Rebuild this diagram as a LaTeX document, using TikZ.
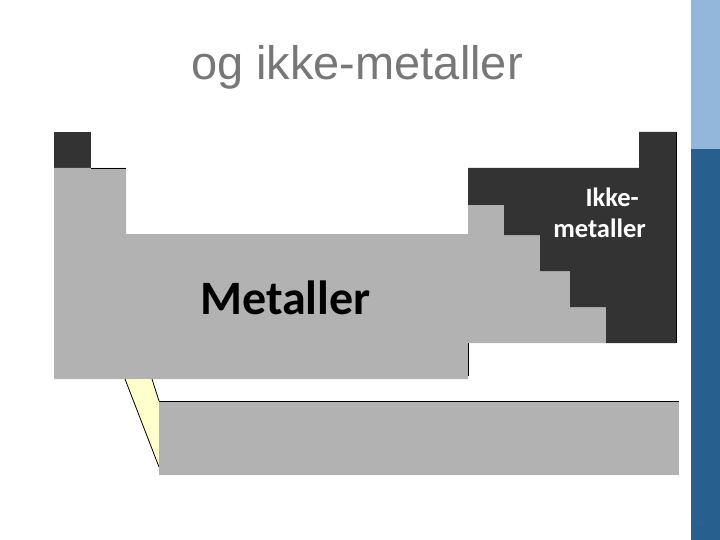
\documentclass[tikz,border=0pt]{standalone}
\usepackage{fontspec}
\setmainfont{Liberation Sans}
\newfontfamily\calibri{Carlito}
\definecolor{tblgray}{HTML}{B2B2B2}
\definecolor{tbldark}{HTML}{333333}
\definecolor{tblyellow}{HTML}{FFFFCC}
\definecolor{sidelight}{HTML}{92B7DB}
\definecolor{sidedark}{HTML}{275F8F}
\definecolor{titlegray}{HTML}{777777}
\definecolor{pagenum}{HTML}{3A5FB0}
\begin{document}
\begin{tikzpicture}[x=1pt,y=-1pt,
  edge/.style={black,line width=0.8pt},
  titletext/.style={text=titlegray,font=\fontsize{47}{50}\selectfont,inner sep=0pt,anchor=base},
  bigtext/.style={font=\calibri\bfseries\fontsize{48}{52}\selectfont,inner sep=0pt,anchor=base west},
  smalltext/.style={text=white,font=\calibri\bfseries\fontsize{26.5}{31}\selectfont,inner sep=0pt,align=right}]
\useasboundingbox (0,0) rectangle (720,540);
\fill[white] (0,0) rectangle (720,540);
% sidebar
\fill[sidelight] (691,0) rectangle (720,149);
\fill[sidedark] (691,149) rectangle (720,540);
% title
\node[titletext] (title) at (357,80) {og ikke-metaller};
% top-left dark square
\fill[tbldark] (54,132) rectangle (91,169);
% main gray block
\fill[tblgray] (54,168) -- (126,168) -- (126,234) -- (468,234) -- (468,205) -- (504,205) -- (504,235) -- (540,235) -- (540,271) -- (570,271) -- (570,307) -- (606,307) -- (606,343) -- (468,343) -- (468,379) -- (54,379) -- cycle;
% dark non-metal block
\fill[tbldark] (468,168) -- (639,168) -- (639,132) -- (676,132) -- (676,343) -- (606,343) -- (606,307) -- (570,307) -- (570,271) -- (540,271) -- (540,235) -- (504,235) -- (504,205) -- (468,205) -- cycle;
% yellow link
\fill[tblyellow] (125,379) -- (152,379) -- (159,401) -- (159,467) -- cycle;
\draw[edge] (125,379) -- (159,467);
\draw[edge] (152,379) -- (159,401);
% lower gray block
\fill[tblgray] (159,401) rectangle (679,475);
% black edge lines
\draw[edge] (91,168) -- (126,168);
\draw[edge] (676,132) -- (676,343);
\draw[edge] (468,343) -- (468,376);
\draw[edge] (159,401) -- (679,401);
% labels
\node[bigtext] (metal) at (200,314) {Metaller};
\node[smalltext,anchor=base east] (ikke) at (646,237) {Ikke-\hspace*{7pt}\\metaller};
\node[text=pagenum,font=\fontsize{7}{8}\selectfont,inner sep=0pt,anchor=base] (page) at (700,525) {18};
\end{tikzpicture}
\end{document}
